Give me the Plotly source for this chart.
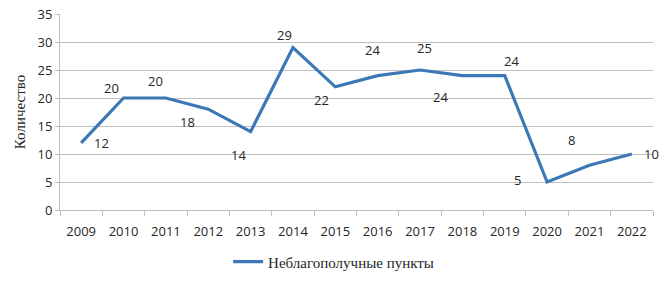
import plotly.graph_objects as go

years = ["2009", "2010", "2011", "2012", "2013", "2014", "2015", "2016",
         "2017", "2018", "2019", "2020", "2021", "2022"]
values = [12, 20, 20, 18, 14, 29, 22, 24, 25, 24, 24, 5, 8, 10]
series_name = "Неблагополучные пункты"
y_title = "Количество"

# label offsets in pixels (screen x, screen y up-positive)
label_dx = [20, -12, -10, -21, -12, -8, -14, -5, 4, -22, 7, -30, -18, 20]
label_dy = [0, 10, 17, -13, -23, 13, -13, 26, 22, -21, 15, 2, 25, 0]

LINE = "#3c78b5"
GRID = "#bfbfbf"
TXT = "#262626"

fig = go.Figure()
fig.add_trace(go.Scatter(
    x=years, y=values, mode="lines", name=series_name,
    line=dict(color=LINE, width=3.2), showlegend=True,
))

annotations = []
for i, (v, dx, dy) in enumerate(zip(values, label_dx, label_dy)):
    annotations.append(dict(x=i, y=v, xref="x", yref="y", text=str(v),
                            showarrow=False, xshift=dx, yshift=dy,
                            xanchor="center", yanchor="middle",
                            font=dict(family="Open Sans", size=13, color=TXT)))

fig.update_layout(
    width=671, height=284, autosize=False,
    margin=dict(l=60, r=18, t=14, b=74, autoexpand=False),
    paper_bgcolor="white", plot_bgcolor="white",
    font=dict(family="Open Sans", size=13, color=TXT),
    annotations=annotations,
    legend=dict(orientation="h", x=0.2835, xanchor="left", y=-0.265, yanchor="middle",
                font=dict(family="Liberation Serif", size=15, color=TXT),
                bgcolor="rgba(0,0,0,0)"),
    xaxis=dict(type="category", range=[-0.5, 13.5], tickson="boundaries",
               ticks="outside", ticklen=5, tickcolor=GRID, automargin=False,
               ticklabelstandoff=9,
               showline=True, linecolor=GRID, linewidth=1,
               showgrid=False, tickfont=dict(size=13, color=TXT)),
    yaxis=dict(range=[0, 35], dtick=5, ticks="outside", ticklen=4, tickcolor=GRID,
               showline=True, linecolor=GRID, linewidth=1, automargin=False,
               showgrid=True, gridcolor=GRID, gridwidth=1, zeroline=False,
               tickfont=dict(size=13, color=TXT),
               title=dict(text=y_title, standoff=8,
                          font=dict(family="Liberation Serif", size=15, color=TXT))),
)

fig.write_html("out.html")
